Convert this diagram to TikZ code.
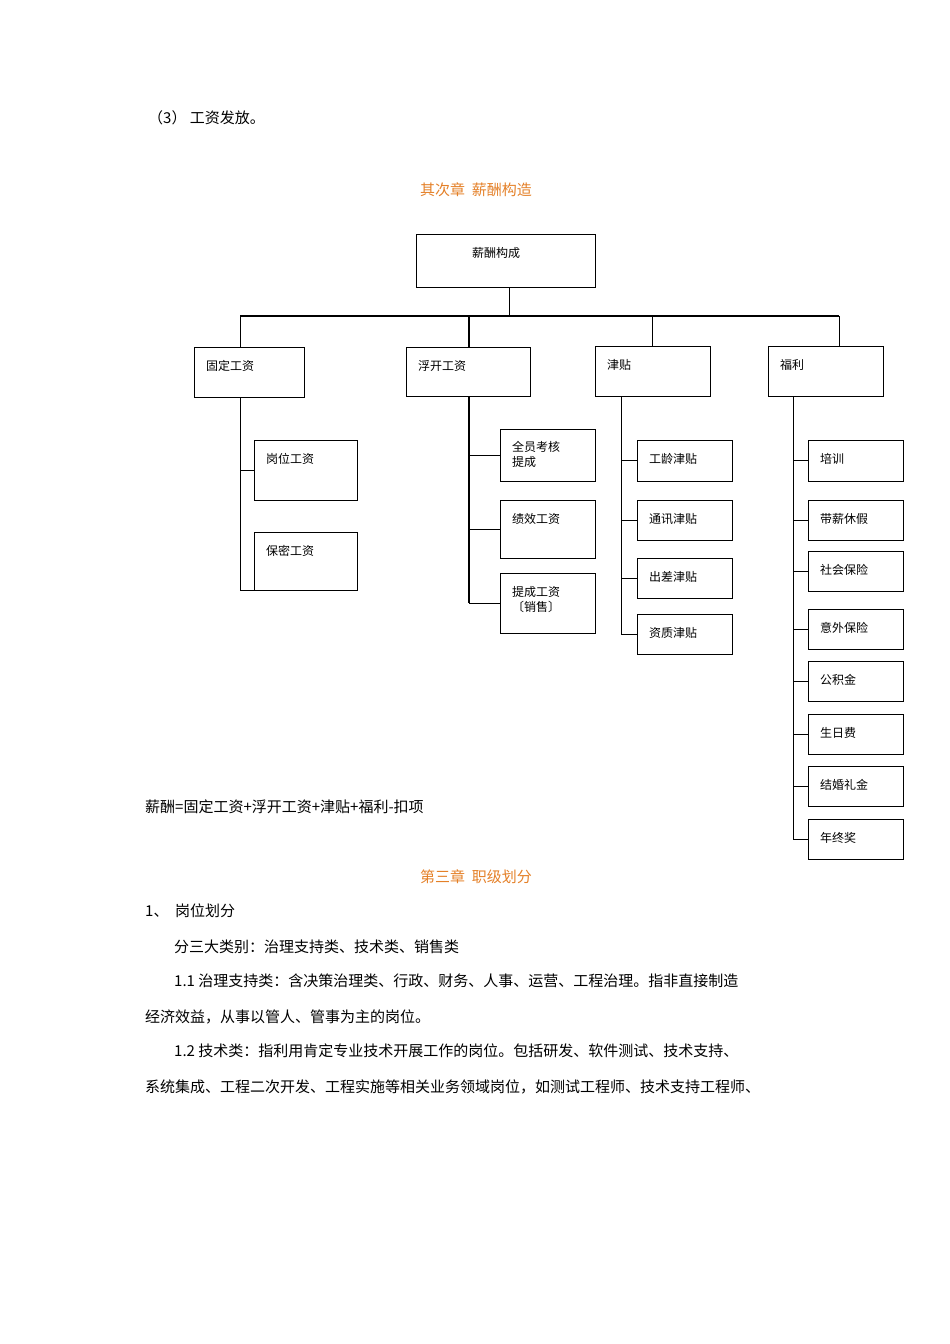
\documentclass[tikz,border=0pt]{standalone}
\usepackage{fontspec}
\setmainfont{Noto Sans CJK SC}
\usepackage{tikz}
\usetikzlibrary{positioning}
\definecolor{headorange}{RGB}{228,128,40}
\tikzstyle{box} = [draw, rectangle, anchor=north west, inner sep=0pt]
\tikzstyle{lbl} = [anchor=north west, xshift=12pt, yshift=-13pt, font=\fontsize{12pt}{15pt}\selectfont, align=left, inner sep=0pt]
\tikzstyle{body} = [anchor=west, inner sep=0pt, font=\fontsize{15pt}{17pt}\selectfont]
\tikzstyle{head} = [inner sep=0pt, text=headorange, font=\fontsize{15pt}{17pt}\selectfont]
\tikzstyle{link} = [draw, line width=0.8pt]

\begin{document}
\begin{tikzpicture}[x=1pt, y=-1pt]
    \useasboundingbox (0,0) rectangle (950,1344);

    % Text above
    \node [body] (step3) at (148,118) {（3） 工资发放。};
    \node [head] (chap2) at (476,190) {其次章\ \ 薪酬构造};

    % Top of the tree
    \node [box, minimum width=179pt, minimum height=53pt,
        label={[lbl, xshift=44pt]north west:薪酬构成}] (root) at (416,234) {};
    \coordinate (bus) at (509,316);
    \coordinate (busl) at (240,316);
    \coordinate (busr) at (839,316);

    % Second level
    \node [box, minimum width=110pt, minimum height=50pt,
        label={[lbl]north west:固定工资}] (fixed) at (194,347) {};
    \node [box, minimum width=124pt, minimum height=49pt,
        label={[lbl]north west:浮开工资}] (float) at (406,347) {};
    \node [box, minimum width=115pt, minimum height=50pt,
        label={[lbl]north west:津贴}] (allow) at (595,346) {};
    \node [box, minimum width=115pt, minimum height=50pt,
        label={[lbl]north west:福利}] (welfare) at (768,346) {};

    % Fixed wage items
    \node [box, minimum width=103pt, minimum height=60pt,
        label={[lbl]north west:岗位工资}] (post) at (254,440) {};
    \node [box, minimum width=103pt, minimum height=58pt,
        label={[lbl]north west:保密工资}] (secret) at (254,532) {};

    % Floating wage items
    \node [box, minimum width=95pt, minimum height=52pt,
        label={[lbl, yshift=1pt]north west:全员考核\\提成}] (assess) at (500,429) {};
    \node [box, minimum width=95pt, minimum height=58pt,
        label={[lbl]north west:绩效工资}] (perf) at (500,500) {};
    \node [box, minimum width=95pt, minimum height=60pt,
        label={[lbl]north west:提成工资\\〔销售〕}] (sales) at (500,573) {};

    % Allowance items
    \node [box, minimum width=95pt, minimum height=41pt,
        label={[lbl]north west:工龄津贴}] (senior) at (637,440) {};
    \node [box, minimum width=95pt, minimum height=40pt,
        label={[lbl]north west:通讯津贴}] (phone) at (637,500) {};
    \node [box, minimum width=95pt, minimum height=40pt,
        label={[lbl]north west:出差津贴}] (trip) at (637,558) {};
    \node [box, minimum width=95pt, minimum height=40pt,
        label={[lbl]north west:资质津贴}] (qual) at (637,614) {};

    % Welfare items
    \node [box, minimum width=95pt, minimum height=41pt,
        label={[lbl]north west:培训}] (train) at (808,440) {};
    \node [box, minimum width=95pt, minimum height=40pt,
        label={[lbl]north west:带薪休假}] (leave) at (808,500) {};
    \node [box, minimum width=95pt, minimum height=40pt,
        label={[lbl]north west:社会保险}] (social) at (808,551) {};
    \node [box, minimum width=95pt, minimum height=40pt,
        label={[lbl]north west:意外保险}] (accid) at (808,609) {};
    \node [box, minimum width=95pt, minimum height=40pt,
        label={[lbl]north west:公积金}] (fund) at (808,661) {};
    \node [box, minimum width=95pt, minimum height=40pt,
        label={[lbl]north west:生日费}] (bday) at (808,714) {};
    \node [box, minimum width=95pt, minimum height=40pt,
        label={[lbl]north west:结婚礼金}] (wed) at (808,766) {};
    \node [box, minimum width=95pt, minimum height=40pt,
        label={[lbl]north west:年终奖}] (bonus) at (808,819) {};

    % Trunk lines
    \coordinate (fixline) at (240,397);
    \coordinate (floatline) at (469,396);
    \coordinate (allowline) at (621,396);
    \coordinate (welfline) at (793,396);

    % Connect the tree
    \draw [link] (bus |- root.south) -- (bus);
    \draw [line width=2pt] (busl) -- (busr);
    \draw [link] (busl) -- (busl |- fixed.north);
    \draw [line width=1.6pt] (bus -| floatline) -- (float.north -| floatline);
    \draw [link] (allow.north) -- (allow.north |- bus);
    \draw [link] (busr) -- (busr |- welfare.north);

    \draw [link] (fixline) |- (post.west);
    \draw [link] (fixline) |- (secret.south west);

    \draw [line width=1.6pt] (floatline) -- (floatline |- sales.west);
    \draw [link] (floatline |- assess.west) -- (assess.west);
    \draw [link] (floatline |- perf.west) -- (perf.west);
    \draw [link] (floatline |- sales.west) -- (sales.west);

    \draw [link] (allowline) |- (qual.west);
    \foreach \item in {senior, phone, trip}
        \draw [link] (allowline |- \item.west) -- (\item.west);

    \draw [link] (welfline) |- (bonus.west);
    \foreach \item in {train, leave, social, accid, fund, bday, wed}
        \draw [link] (welfline |- \item.west) -- (\item.west);

    % Text below
    \node [body] (formula) at (145,807) {薪酬=固定工资+浮开工资+津贴+福利-扣项};
    \node [head] (chap3) at (476,877) {第三章\ \ 职级划分};
    \node [body] (sec1) at (145,911) {1、\ \ 岗位划分};
    \node [body] (kinds) at (174,947) {分三大类别：治理支持类、技术类、销售类};
    \node [body] (p11a) at (174,981) {1.1 治理支持类：含决策治理类、行政、财务、人事、运营、工程治理。指非直接制造};
    \node [body] (p11b) at (145,1017) {经济效益，从事以管人、管事为主的岗位。};
    \node [body] (p12a) at (174,1051) {1.2 技术类：指利用肯定专业技术开展工作的岗位。包括研发、软件测试、技术支持、};
    \node [body] (p12b) at (145,1087) {系统集成、工程二次开发、工程实施等相关业务领域岗位，如测试工程师、技术支持工程师、};
\end{tikzpicture}
\end{document}
